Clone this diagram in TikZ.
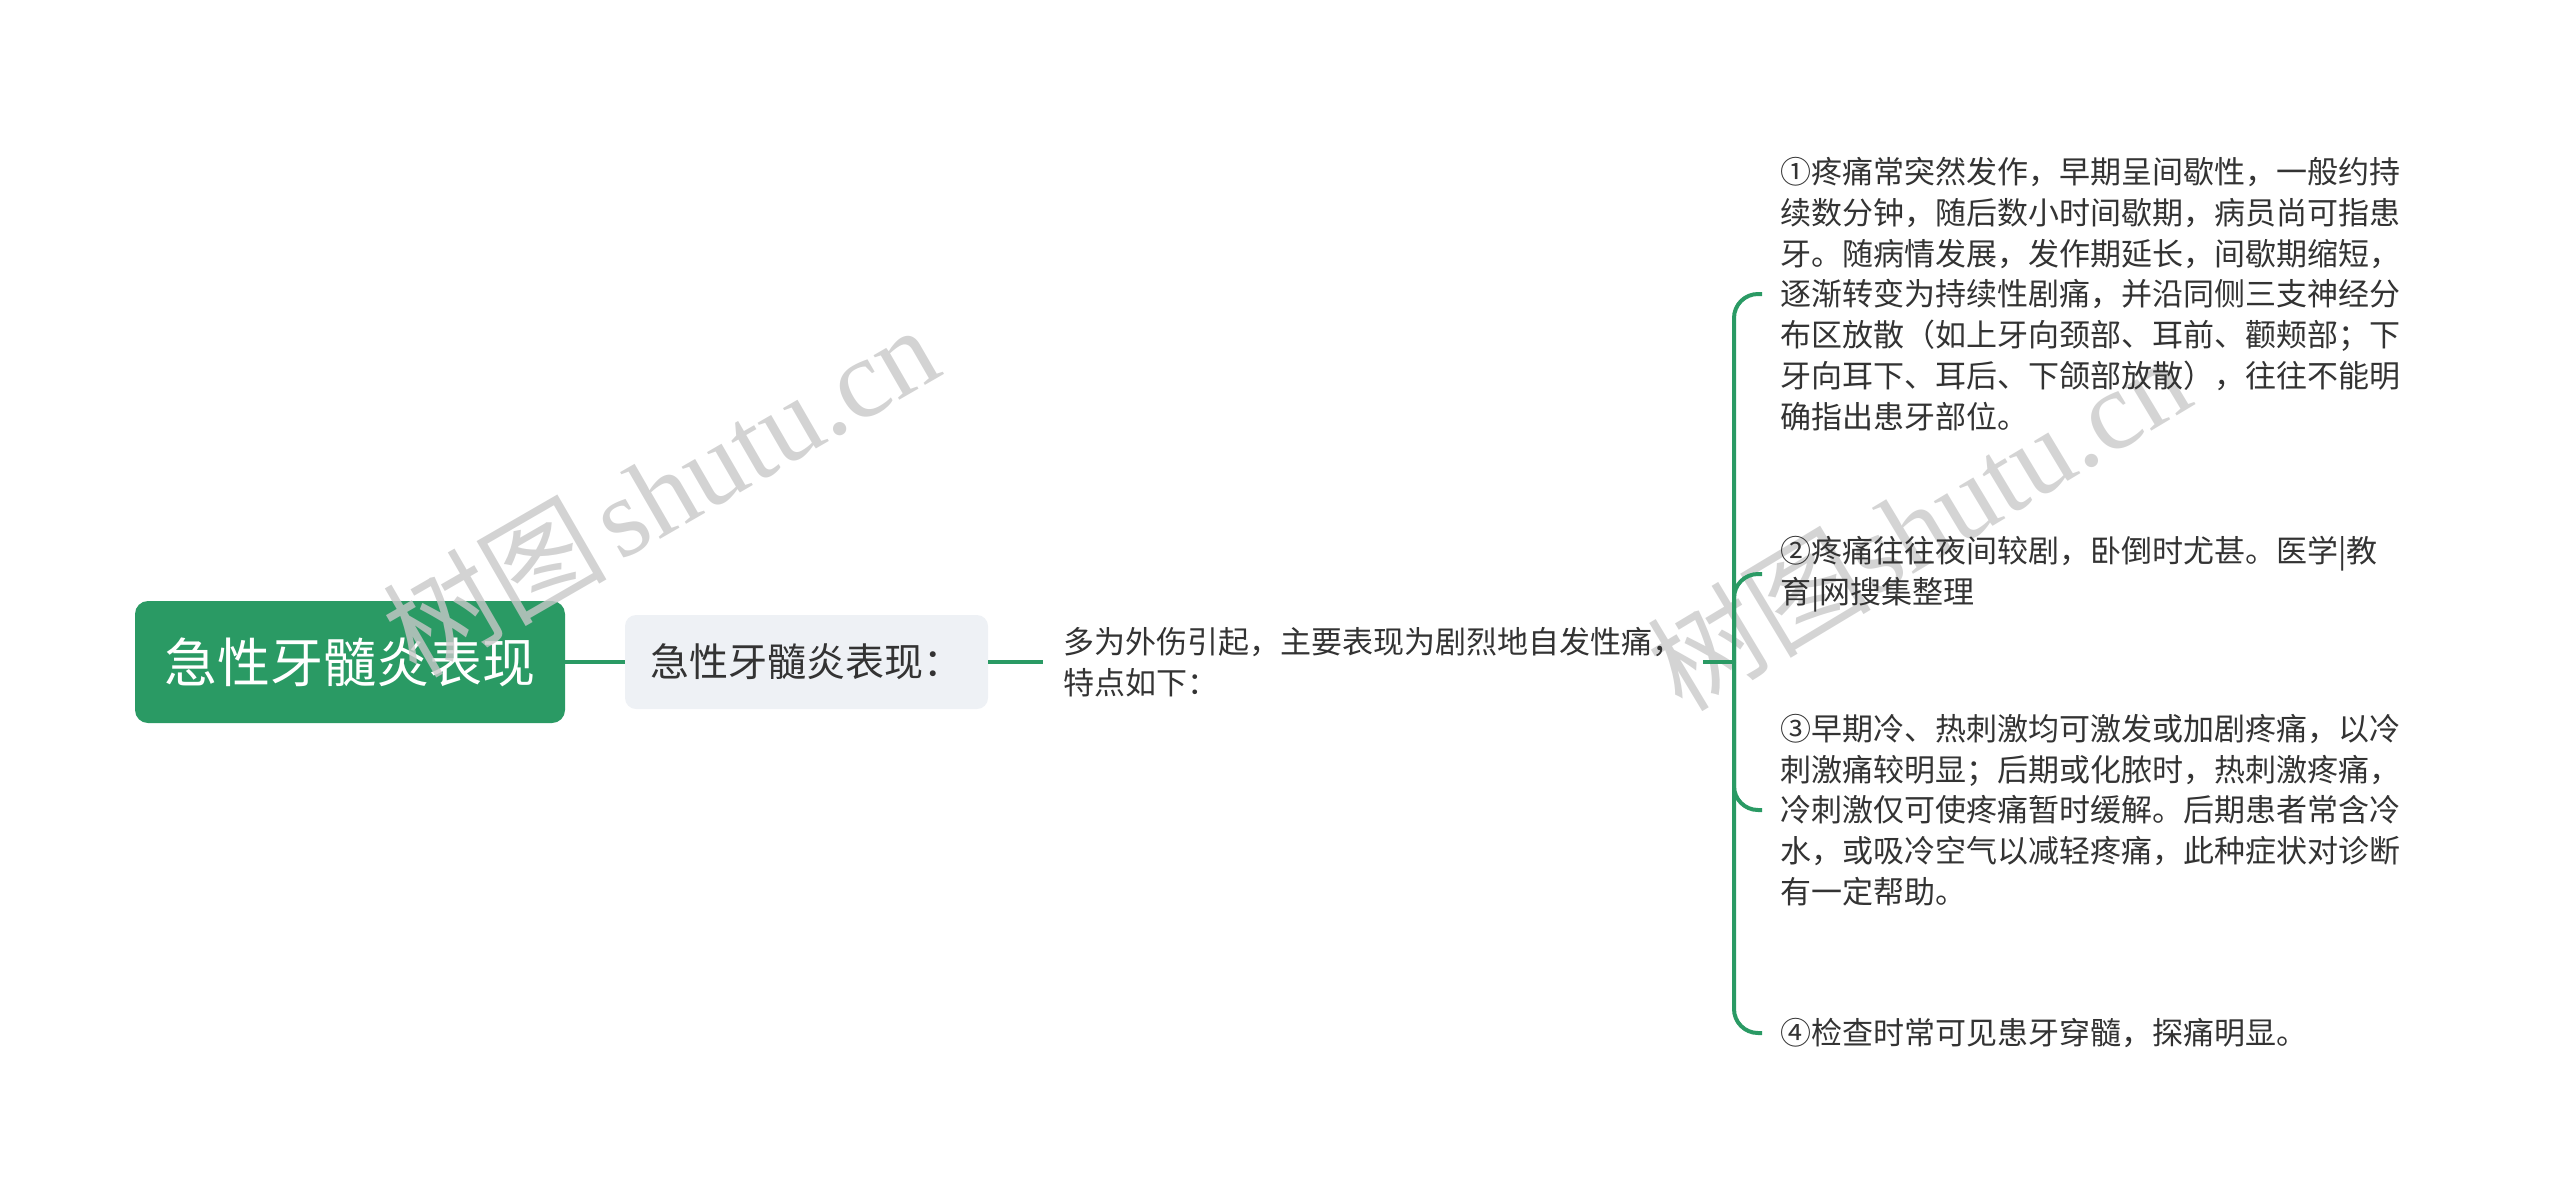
\documentclass[tikz,border=0pt]{standalone}
\usepackage{fontspec}
\setmainfont{Noto Sans CJK SC}
\newfontfamily\cjkfont{Noto Sans CJK SC}
\newfontfamily\wmfont{Liberation Serif}
\definecolor{mmgreen}{HTML}{2A9A64}
\definecolor{subfill}{HTML}{EEF1F5}
\definecolor{txtdark}{HTML}{333333}
\definecolor{wmgray}{HTML}{C8C8C8}
\definecolor{wmlight}{HTML}{D4D4D4}
\tikzset{
  rootbox/.style={fill=mmgreen, draw=none, rounded corners=13pt, text=white,
    minimum width=430pt, minimum height=122pt, inner sep=0pt,
    font=\cjkfont\fontsize{53pt}{60pt}\selectfont},
  subbox/.style={fill=subfill, draw=none, rounded corners=11pt, text=txtdark,
    minimum width=363pt, minimum height=94pt, inner sep=0pt,
    font=\cjkfont\fontsize{39pt}{46pt}\selectfont},
  plaintext/.style={text=txtdark, align=left, inner ysep=0pt,
    font=\cjkfont\fontsize{31pt}{40.8pt}\selectfont},
  link/.style={draw=mmgreen, line width=4pt},
  branch/.style={draw=mmgreen, line width=4pt, rounded corners=24pt},
  watermark/.style={inner sep=0pt,
    font=\wmfont\fontsize{112pt}{112pt}\selectfont}
}
\begin{document}
\begin{tikzpicture}[x=1pt,y=-1pt]
\useasboundingbox (0,0) rectangle (2560,1203);

% watermark behind the right-hand texts
\node[watermark, text=wmlight, rotate=31] (wm2) at (1918,522) {{\cjkfont 树图}shutu.cn};

\node[rootbox] (root) at (350,662) {急性牙髓炎表现};
\node[subbox] (sub) at (806.5,662) {急性牙髓炎表现：};
\node[plaintext, inner xsep=20pt, anchor=west] (mid) at (1043,662)
  {多为外伤引起，主要表现为剧烈地自发性痛，\\特点如下：};
\coordinate (J) at (1734,662);

\node[plaintext, inner xsep=18pt, anchor=west] (i1) at (1762,294)
  {①疼痛常突然发作，早期呈间歇性，一般约持\\续数分钟，随后数小时间歇期，病员尚可指患\\牙。随病情发展，发作期延长，间歇期缩短，\\逐渐转变为持续性剧痛，并沿同侧三支神经分\\布区放散（如上牙向颈部、耳前、颧颊部；下\\牙向耳下、耳后、下颌部放散），往往不能明\\确指出患牙部位。};
\node[plaintext, inner xsep=18pt, anchor=west] (i2) at (1762,574)
  {②疼痛往往夜间较剧，卧倒时尤甚。医学|教\\育|网搜集整理};
\node[plaintext, inner xsep=18pt, anchor=west] (i3) at (1762,810)
  {③早期冷、热刺激均可激发或加剧疼痛，以冷\\刺激痛较明显；后期或化脓时，热刺激疼痛，\\冷刺激仅可使疼痛暂时缓解。后期患者常含冷\\水，或吸冷空气以减轻疼痛，此种症状对诊断\\有一定帮助。};
\node[plaintext, inner xsep=18pt, anchor=west] (i4) at (1762,1033)
  {④检查时常可见患牙穿髓，探痛明显。};

\draw[link] (root.east) -- (sub.west);
\draw[link] (sub.east) -- (mid.west);
\draw[link] (mid.east) -- (J);
\draw[branch] (J) |- (i1.west);
\draw[branch] (J) |- (i2.west);
\draw[branch] (J) |- (i3.west);
\draw[branch] (J) |- (i4.west);

% watermark over the root box
\node[watermark, text=wmgray, opacity=0.8, rotate=30] (wm1) at (660,490)
  {{\cjkfont 树图}\hspace{12pt}shutu.cn};
\end{tikzpicture}
\end{document}
